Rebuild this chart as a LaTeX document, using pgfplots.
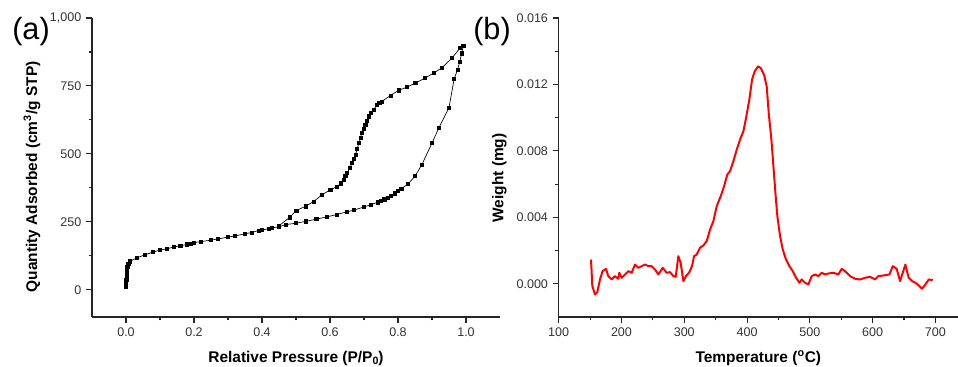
\documentclass[border=0pt]{standalone}
\usepackage{fontspec}
\setmainfont{Liberation Sans}
\usepackage{pgfplots}
\pgfplotsset{compat=1.18}

\pgfplotstableread{
x y
0.000 12
0.0005 25
0.001 37
0.0015 50
0.002 61
0.003 72
0.004 86
0.007 95
0.012 105
0.031 117
0.056 129
0.080 139
0.100 146
0.120 151
0.140 157
0.160 162
0.180 167
0.190 170
0.200 174
0.220 177
0.250 183
0.270 187
0.300 194
0.320 198
0.350 206
0.370 211
0.390 218
0.400 220
0.420 225
0.430 228
0.450 232
0.470 240
0.500 245
0.530 252
0.560 260
0.590 268
0.620 277
0.650 287
0.670 293
0.700 305
0.720 313
0.740 322
0.750 327
0.760 333
0.770 338
0.780 345
0.790 355
0.800 365
0.810 372
0.830 390
0.850 418
0.870 460
0.900 540
0.920 595
0.950 670
0.965 775
0.975 810
0.982 840
0.987 870
0.992 898
}\adsorption

\pgfplotstableread{
x y
0.993 898
0.983 890
0.959 853
0.929 816
0.905 798
0.880 779
0.851 761
0.827 746
0.802 734
0.778 715
0.753 693
0.745 687
0.738 681
0.729 663
0.720 650
0.714 638
0.709 622
0.704 607
0.699 592
0.694 577
0.690 560
0.685 540
0.680 518
0.675 497
0.670 482
0.665 466
0.658 448
0.650 429
0.645 418
0.641 405
0.632 392
0.621 380
0.601 368
0.577 350
0.552 325
0.528 307
0.501 292
0.482 267
0.450 236
}\desorption

\pgfplotstableread{
x y
151.5 0.00146
153.6 -0.00014
157.9 -0.00064
161.6 -0.00050
165.8 0.00026
170.0 0.00076
175.4 0.00090
179.0 0.00046
184.4 0.00026
189.7 0.00046
195.0 0.00030
196.6 0.00066
200.4 0.00036
205.7 0.00056
211.0 0.00076
216.3 0.00066
221.6 0.00116
226.9 0.00096
232.2 0.00106
237.5 0.00116
242.8 0.00106
248.1 0.00106
253.5 0.00086
258.8 0.00056
265.7 0.00096
272.0 0.00066
277.4 0.00070
282.7 0.00046
286.4 0.00042
290.6 0.00166
294.3 0.00126
298.6 0.00016
302.8 0.00046
308.2 0.00070
312.4 0.00106
315.6 0.00166
319.8 0.00176
325.1 0.00217
330.5 0.00231
335.8 0.00257
341.1 0.00327
346.4 0.00377
351.7 0.00467
358.1 0.00527
363.4 0.00587
368.7 0.00658
372.9 0.00678
378.3 0.00738
383.6 0.00808
388.9 0.00868
394.2 0.00918
398.4 0.00998
403.7 0.01109
408.0 0.01229
412.2 0.01279
417.5 0.01309
421.8 0.01299
427.1 0.01259
431.3 0.01189
434.5 0.01029
438.8 0.00868
442.0 0.00708
445.2 0.00547
448.3 0.00407
452.6 0.00287
456.8 0.00207
462.1 0.00146
467.5 0.00106
472.8 0.00076
478.1 0.00036
483.4 0.00006
487.1 0.00026
492.4 0.00006
497.7 -0.00004
503.0 0.00046
508.4 0.00056
513.7 0.00046
519.0 0.00066
524.3 0.00056
529.6 0.00062
537.5 0.00066
545.5 0.00056
550.8 0.00090
556.1 0.00076
564.1 0.00046
572.1 0.00030
580.0 0.00026
588.0 0.00036
596.0 0.00042
604.0 0.00026
609.2 0.00046
617.2 0.00050
626.8 0.00056
632.1 0.00106
638.4 0.00090
643.7 0.00016
648.0 0.00066
652.2 0.00116
657.5 0.00036
662.8 0.00016
668.2 0.00006
673.5 -0.00010
678.8 -0.00030
684.1 -0.00004
689.4 0.00026
695.8 0.00022
}\tpd

\pgfplotsset{
  mystyle/.style={
    scale only axis,
    anchor=south west,
    axis lines*=left,
    axis line style={line width=0.9pt, black!85},
    every tick/.style={line width=0.8pt, black!85},
    tick align=outside,
    major tick length=4.5pt,
    minor tick length=2.5pt,
    tick label style={font=\fontsize{9.4}{11}\selectfont, text=black!80},
    label style={font=\bfseries\fontsize{11.6}{13}\selectfont},
    /pgf/number format/assume math mode=true,
    clip=false,
  }
}

\begin{document}
\begin{tikzpicture}
\path[use as bounding box] (0,0) rectangle (718.5pt,275.25pt);

\begin{axis}[mystyle,
  at={(69pt,37.5pt)},
  width=306pt, height=224.25pt,
  xmin=-0.1, xmax=1.1, ymin=-100, ymax=1000,
  xtick={0,0.2,...,1.0},
  minor x tick num=1,
  ytick={0,250,500,750,1000},
  minor y tick num=1,
  xticklabel style={/pgf/number format/fixed, /pgf/number format/fixed zerofill, /pgf/number format/precision=1},
  yticklabel style={/pgf/number format/1000 sep={,}},
  xlabel={Relative Pressure (P/P\raisebox{-0.25ex}{\fontsize{8}{9}\selectfont 0})},
  xlabel style={at={(axis description cs:0.5,0)}, anchor=base, yshift=-34pt},
]
\addplot[black, line width=0.5pt, mark=square*, mark size=1.2pt] table[x=x,y=y] {\adsorption};
\addplot[black, line width=0.5pt, mark=square*, mark size=1.2pt] table[x=x,y=y] {\desorption};
\end{axis}

\begin{axis}[mystyle,
  at={(419pt,37.5pt)},
  width=299.5pt, height=224.25pt,
  xmin=100, xmax=736, ymin=-0.002, ymax=0.016,
  xtick={100,200,...,700},
  minor x tick num=1,
  ytick={0,0.004,0.008,0.012,0.016},
  minor y tick num=1,
  yticklabel style={/pgf/number format/fixed, /pgf/number format/fixed zerofill, /pgf/number format/precision=3},
  scaled y ticks=false,
  xlabel={Temperature (\textsuperscript{o}C)},
  xlabel style={at={(axis description cs:0.5,0)}, anchor=base, yshift=-34pt},
]
\addplot[red, line width=1.5pt, line join=round] table[x=x,y=y] {\tpd};
\end{axis}

\node[rotate=90, anchor=center, inner sep=0pt, font=\bfseries\fontsize{11.6}{13}\selectfont] at (24pt,142.5pt) {Quantity Adsorbed (cm\textsuperscript{3}/g STP)};
\node[rotate=90, anchor=center, inner sep=0pt, font=\bfseries\fontsize{11.6}{13}\selectfont] at (374.5pt,141.75pt) {Weight (mg)};

\node[anchor=west, inner sep=0pt, font=\fontsize{23}{27}\selectfont] at (9pt,251.25pt) {(a)};
\node[anchor=west, inner sep=0pt, font=\fontsize{23}{27}\selectfont] at (354.75pt,251.25pt) {(b)};
\end{tikzpicture}
\end{document}
